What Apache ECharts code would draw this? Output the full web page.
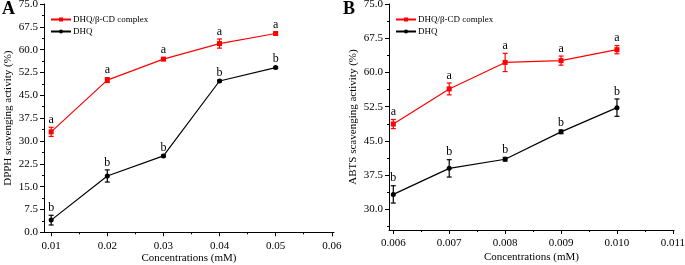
<!DOCTYPE html>
<html><head><meta charset="utf-8">
<script src="https://cdn.jsdelivr.net/npm/echarts@6/dist/echarts.min.js"></script>
<style>html,body{margin:0;padding:0;background:#fff}#c{width:685px;height:265px}</style>
</head><body><div id="c"></div>
<script>
// Panel A (DPPH)
const concA = [0.01, 0.02, 0.03, 0.04, 0.05];
const complexA = [33.0, 50.0, 56.9, 62.0, 65.3];
const complexAErr = [1.5, 0.8, 0.5, 1.5, 0.3];
const complexALetters = ['a','a','a','a','a'];
const dhqA = [4.0, 18.5, 25.1, 49.7, 54.1];
const dhqAErr = [1.6, 2.0, 0.3, 0.3, 0.3];
const dhqALetters = ['b','b','b','b','b'];
const xTicksA = [0.01, 0.02, 0.03, 0.04, 0.05, 0.06];
const xMinorA = [0.015, 0.025, 0.035, 0.045, 0.055];
// Panel B (ABTS)
const concB = [0.006, 0.007, 0.008, 0.009, 0.010];
const complexB = [48.7, 56.4, 62.2, 62.6, 65.0];
const complexBErr = [1.0, 1.3, 2.0, 1.0, 0.9];
const complexBLetters = ['a','a','a','a','a'];
const dhqB = [33.3, 39.0, 41.0, 47.0, 52.3];
const dhqBErr = [1.9, 1.9, 0.4, 0.4, 1.9];
const dhqBLetters = ['b','b','b','b','b'];
const xTicksB = [0.006, 0.007, 0.008, 0.009, 0.010, 0.011];
const xMinorB = [0.0065, 0.0075, 0.0085, 0.0095, 0.0105];
const yTicksB = [30, 37.5, 45, 52.5, 60, 67.5, 75];
const yMinorB = [26.25, 33.75, 41.25, 48.75, 56.25, 63.75, 71.25];
const legendNames = ['DHQ/β-CD complex', 'DHQ'];

const FONT = '"Liberation Serif","Times New Roman",serif';
const RED = '#ff0000', BLK = '#000000';

function pairs(xs, ys){ return xs.map((x,i)=>[x, ys[i]]); }
function triples(xs, ys, es){ return xs.map((x,i)=>[x, ys[i], es[i]]); }

function errRender(color, letters){
  return function(params, api){
    const x = api.value(0), y = api.value(1), e = api.value(2);
    const t = api.coord([x, y + e]), b = api.coord([x, y - e]);
    const cap = 2.5;
    return {type:'group', children:[
      {type:'line', shape:{x1:t[0], y1:t[1], x2:b[0], y2:b[1]}, style:{stroke:color, lineWidth:1.2}},
      {type:'line', shape:{x1:t[0]-cap, y1:t[1], x2:t[0]+cap, y2:t[1]}, style:{stroke:color, lineWidth:1.2}},
      {type:'line', shape:{x1:b[0]-cap, y1:b[1], x2:b[0]+cap, y2:b[1]}, style:{stroke:color, lineWidth:1.2}},
      {type:'text', x:t[0], y:t[1]-1.5, style:{text:letters[params.dataIndex], align:'center', verticalAlign:'bottom', fill:'#000', font:'12px ' + FONT}}
    ]};
  };
}

const axisLineStyle = {lineStyle:{color:'#000', width:1}};
const labelStyle = {color:'#000', fontFamily:FONT, fontSize:11};

function xAxes(gi, min, max, ticks, minor, fmtDigits, gap){
  return [
    {type:'value', gridIndex:gi, min:min, max:max, position:'bottom',
     axisLine:{show:true, onZero:false, ...axisLineStyle},
     axisTick:{show:true, customValues:ticks, length:4, lineStyle:{color:'#000'}},
     axisLabel:{...labelStyle, customValues:ticks, margin:8, formatter:v=>v.toFixed(fmtDigits)},
     splitLine:{show:false},
     name:'Concentrations (mM)', nameLocation:'middle', nameGap:gap, nameMoveOverlap:false,
     nameTextStyle:{color:'#000', fontFamily:FONT, fontSize:11}},
    {type:'value', gridIndex:gi, min:min, max:max, position:'bottom',
     axisLine:{show:false, onZero:false},
     axisTick:{show:true, customValues:minor, length:2, lineStyle:{color:'#000'}},
     axisLabel:{show:false}, splitLine:{show:false}}
  ];
}

function legendAt(left){
  return {left:left, top:15, orient:'vertical', itemGap:3, itemWidth:20, itemHeight:5, padding:0,
    data:legendNames, textStyle:{color:'#000', fontFamily:FONT, fontSize:9, padding:[0,0,0,-3]}};
}

const option = {
  animation:false,
  backgroundColor:'#fff',
  grid:[
    {left:44, top:4, width:290, height:228.3, outerBoundsMode:'none', containLabel:false},
    {left:389, top:4, width:285, height:226, outerBoundsMode:'none', containLabel:false}
  ],
  xAxis:[
    ...xAxes(0, 0.00872, 0.0604, xTicksA, xMinorA, 2, 20),
    ...xAxes(1, 0.005923, 0.01102, xTicksB, xMinorB, 3, 22)
  ],
  yAxis:[
    {type:'value', gridIndex:0, min:0, max:75, interval:7.5,
     axisLine:{show:true, onZero:false, ...axisLineStyle},
     axisTick:{show:true, length:4, lineStyle:{color:'#000'}},
     minorTick:{show:true, splitNumber:2, length:2, lineStyle:{color:'#000'}},
     axisLabel:{...labelStyle, margin:6, formatter:v=>v.toFixed(1)},
     splitLine:{show:false},
     name:'DPPH scavenging activity (%)', nameLocation:'middle', nameGap:30, nameMoveOverlap:false,
     nameTextStyle:{color:'#000', fontFamily:FONT, fontSize:11}},
    {type:'value', gridIndex:1, min:25.5, max:75,
     axisLine:{show:true, onZero:false, ...axisLineStyle},
     axisTick:{show:true, customValues:yTicksB, length:4, lineStyle:{color:'#000'}},
     axisLabel:{...labelStyle, customValues:yTicksB, margin:6, formatter:v=>v.toFixed(1)},
     splitLine:{show:false},
     name:'ABTS scavenging activity (%)', nameLocation:'middle', nameGap:30, nameMoveOverlap:false,
     nameTextStyle:{color:'#000', fontFamily:FONT, fontSize:11}},
    {type:'value', gridIndex:1, min:25.5, max:75, position:'left',
     axisLine:{show:false, onZero:false},
     axisTick:{show:true, customValues:yMinorB, length:2, lineStyle:{color:'#000'}},
     axisLabel:{show:false}, splitLine:{show:false}}
  ],
  legend:[legendAt(50), legendAt(395)],
  series:[
    {name:legendNames[0], type:'line', xAxisIndex:0, yAxisIndex:0, data:pairs(concA, complexA),
     symbol:'rect', symbolSize:5, lineStyle:{color:RED, width:1.2}, itemStyle:{color:RED}, z:3},
    {name:legendNames[1], type:'line', xAxisIndex:0, yAxisIndex:0, data:pairs(concA, dhqA),
     symbol:'circle', symbolSize:5, lineStyle:{color:BLK, width:1.2}, itemStyle:{color:BLK}, z:3},
    {type:'custom', xAxisIndex:0, yAxisIndex:0, data:triples(concA, complexA, complexAErr), renderItem:errRender(RED, complexALetters), z:4},
    {type:'custom', xAxisIndex:0, yAxisIndex:0, data:triples(concA, dhqA, dhqAErr), renderItem:errRender(BLK, dhqALetters), z:4},
    {name:legendNames[0], type:'line', xAxisIndex:2, yAxisIndex:1, data:pairs(concB, complexB),
     symbol:'rect', symbolSize:5, lineStyle:{color:RED, width:1.2}, itemStyle:{color:RED}, z:3},
    {name:legendNames[1], type:'line', xAxisIndex:2, yAxisIndex:1, data:pairs(concB, dhqB),
     symbol:'circle', symbolSize:5, lineStyle:{color:BLK, width:1.2}, itemStyle:{color:BLK}, z:3},
    {type:'custom', xAxisIndex:2, yAxisIndex:1, data:triples(concB, complexB, complexBErr), renderItem:errRender(RED, complexBLetters), z:4},
    {type:'custom', xAxisIndex:2, yAxisIndex:1, data:triples(concB, dhqB, dhqBErr), renderItem:errRender(BLK, dhqBLetters), z:4}
  ],
  graphic:[
    {type:'text', left:2, top:0, style:{text:'A', font:'bold 18px ' + FONT, fill:'#000'}},
    {type:'text', left:343, top:0, style:{text:'B', font:'bold 18px ' + FONT, fill:'#000'}}
  ]
};
const chart = echarts.init(document.getElementById('c'), null, {renderer:'canvas'});
chart.setOption(option);
</script></body></html>
